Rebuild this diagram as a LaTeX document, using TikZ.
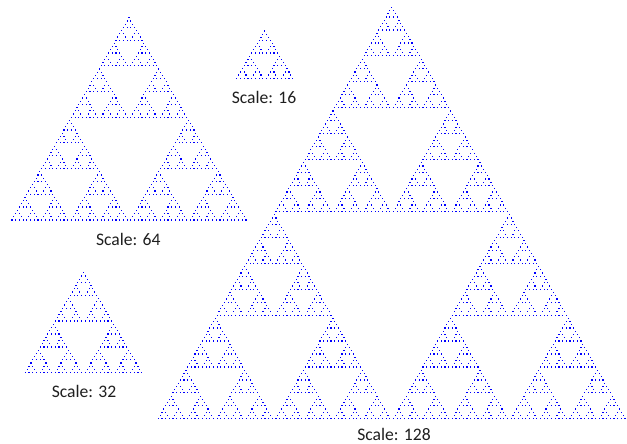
\documentclass[tikz,border=0pt]{standalone}
\usepackage{fontspec}
\setmainfont{Carlito}
\newdimen\sierH
\newdimen\sierV
\makeatletter
\def\sierp#1#2#3{%
  \ifnum#1=1
    \fill[sdot] (#2,#3) ++(-0.6pt,-0.6pt) rectangle ++(1.2pt,1.2pt);%
  \else
    \begingroup
      \edef\sier@x{%
        \noexpand\sierp{\the\numexpr#1/2\relax}{#2}{#3}%
        \noexpand\sierp{\the\numexpr#1/2\relax}{\the\dimexpr#2-#1\sierH/4\relax}{\the\dimexpr#3-#1\sierV/2\relax}%
        \noexpand\sierp{\the\numexpr#1/2\relax}{\the\dimexpr#2+#1\sierH/4\relax}{\the\dimexpr#3-#1\sierV/2\relax}}%
      \sier@x
    \endgroup
  \fi}
\makeatother
\tikzset{
  sdot/.style={fill=blue},
  lbl/.style={anchor=base, inner sep=0pt, text=black!88, font=\fontsize{17.6pt}{20pt}\selectfont}
}
\begin{document}
\begin{tikzpicture}
\useasboundingbox (0pt,0pt) rectangle (627pt,-444pt);
% Scale 16
\sierH=3.73pt \sierV=3.15pt
\sierp{16}{264.7pt}{-31pt}
% Scale 32
\sierH=3.755pt \sierV=3.226pt
\sierp{32}{83.5pt}{-272.7pt}
% Scale 64
\sierH=3.714pt \sierV=3.21pt
\sierp{64}{129pt}{-17.7pt}
% Scale 128
\sierH=3.675pt \sierV=3.24pt
\sierp{128}{391.7pt}{-7.3pt}
\node[lbl] (l16) at (264pt,-103.3pt) {Scale: 16};
\node[lbl] (l32) at (84pt,-397.3pt) {Scale: 32};
\node[lbl] (l64) at (128.3pt,-245pt) {Scale: 64};
\node[lbl] (l128) at (394pt,-440.5pt) {Scale: 128};
\end{tikzpicture}
\end{document}
